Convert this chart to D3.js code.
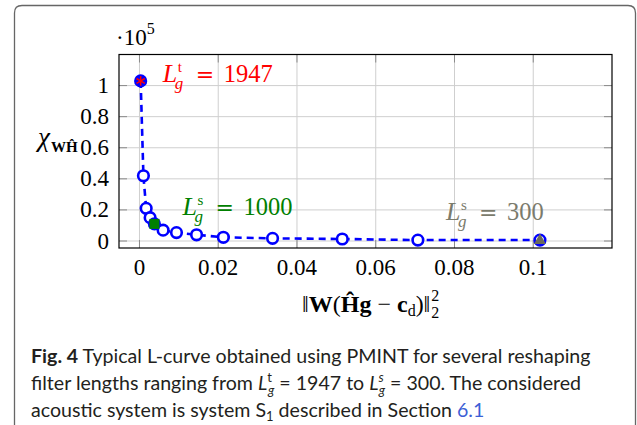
<!DOCTYPE html>
<html>
<head>
<meta charset="utf-8">
<script src="https://cdn.jsdelivr.net/npm/d3@7"></script>
<style>
  html, body { margin: 0; padding: 0; background: #fff; }
  svg { display: block; }
</style>
</head>
<body>
<svg id="chart" width="637" height="425"></svg>
<script>
// === L-curve data (y in units of 1e5) ===
const resid = [0.0003, 0.001, 0.0017, 0.0027, 0.0038, 0.006, 0.0094, 0.0145, 0.0213, 0.0338, 0.0515, 0.0707, 0.1017];
const chi   = [1.03, 0.42, 0.21, 0.15, 0.11, 0.07, 0.054, 0.04, 0.024, 0.017, 0.013, 0.006, 0.006];

const xTicks = [0, 0.02, 0.04, 0.06, 0.08, 0.1];
const xTickLabels = ["0", "0.02", "0.04", "0.06", "0.08", "0.1"];
const yTicks = [0, 0.2, 0.4, 0.6, 0.8, 1];
const yTickLabels = ["0", "0.2", "0.4", "0.6", "0.8", "1"];

// annotated points: index into data, superscript, filter length
const annIdx = [0, 4, 12];
const annSup = ["t", "s", "s"];
const annNum = ["1947", "1000", "300"];
const annColor = ["#ff0000", "#008000", "#7b7b6c"];

const SERIF = "'Liberation Serif', 'DejaVu Serif', serif";

const svg = d3.select("#chart");

// rounded frame of the figure box
svg.append("path")
  .attr("d", "M14.5,430 V13 Q14.5,5.5 22,5.5 H628 Q635.5,5.5 635.5,13 V430")
  .attr("fill", "none")
  .attr("stroke", "#666")
  .attr("stroke-width", 1.3);

const plot = { left: 119, right: 612, top: 54.5, bottom: 248 };

const x = d3.scaleLinear().domain([-0.0052, 0.12]).range([plot.left, plot.right]);
const y = d3.scaleLinear().domain([-0.045, 1.2]).range([plot.bottom, plot.top]);

// grid
const grid = svg.append("g");
grid.selectAll("line.gx").data(xTicks).enter().append("line")
  .attr("x1", d => x(d)).attr("x2", d => x(d))
  .attr("y1", plot.top).attr("y2", plot.bottom)
  .attr("stroke", "#cfcfcf").attr("stroke-width", 1);
grid.selectAll("line.gy").data(yTicks).enter().append("line")
  .attr("y1", d => y(d)).attr("y2", d => y(d))
  .attr("x1", plot.left).attr("x2", plot.right)
  .attr("stroke", "#cfcfcf").attr("stroke-width", 1);

// tick marks inside on all four sides
const tl = 8;
const ticks = svg.append("g").attr("stroke", "#8a8a8a").attr("stroke-width", 1);
xTicks.forEach(t => {
  ticks.append("line").attr("x1", x(t)).attr("x2", x(t)).attr("y1", plot.bottom).attr("y2", plot.bottom - tl);
  ticks.append("line").attr("x1", x(t)).attr("x2", x(t)).attr("y1", plot.top).attr("y2", plot.top + tl);
});
yTicks.forEach(t => {
  ticks.append("line").attr("y1", y(t)).attr("y2", y(t)).attr("x1", plot.left).attr("x2", plot.left + tl);
  ticks.append("line").attr("y1", y(t)).attr("y2", y(t)).attr("x1", plot.right).attr("x2", plot.right - tl);
});

// axis box
svg.append("rect")
  .attr("x", plot.left).attr("y", plot.top)
  .attr("width", plot.right - plot.left).attr("height", plot.bottom - plot.top)
  .attr("fill", "none").attr("stroke", "#000").attr("stroke-width", 1.2);

// tick labels
svg.selectAll("text.xt").data(xTicks).enter().append("text")
  .attr("x", d => x(d)).attr("y", 275)
  .attr("text-anchor", "middle")
  .attr("font-family", SERIF).attr("font-size", 23)
  .text((d, i) => xTickLabels[i]);
svg.selectAll("text.yt").data(yTicks).enter().append("text")
  .attr("x", 109).attr("y", d => y(d) + 7.5)
  .attr("text-anchor", "end")
  .attr("font-family", SERIF).attr("font-size", 23)
  .text((d, i) => yTickLabels[i]);

// multiplier ·10^5
const mult = svg.append("text").attr("x", 116).attr("y", 45)
  .attr("font-family", SERIF).attr("font-size", 23);
mult.append("tspan").text("·10");
mult.append("tspan").attr("font-size", 16).attr("dy", -11).text("5");

// y label chi_{WH^}
const yl = svg.append("text").attr("x", 38).attr("y", 146)
  .attr("font-family", SERIF).attr("font-size", 27);
yl.append("tspan").attr("font-style", "italic").text("χ");
yl.append("tspan").attr("font-size", 15).attr("font-weight", "bold").attr("dx", 1).attr("dy", 6).text("WĤ");

// x label ||W(Hg - c_d)||_2^2
const xl = svg.append("text").attr("x", 302).attr("y", 312)
  .attr("font-family", SERIF).attr("font-size", 24);
xl.append("tspan").text("‖");
xl.append("tspan").attr("font-weight", "bold").text("W");
xl.append("tspan").text("(");
xl.append("tspan").attr("font-weight", "bold").text("Ĥg");
xl.append("tspan").text(" − ");
xl.append("tspan").attr("font-weight", "bold").text("c");
xl.append("tspan").attr("font-size", 16).attr("dy", 4).text("d");
xl.append("tspan").attr("dy", -4).text(")‖");
const xlEnd = 302 + xl.node().getComputedTextLength();
const xl2 = svg.append("text").attr("font-family", SERIF).attr("font-size", 16);
xl2.append("tspan").attr("x", xlEnd + 1).attr("y", 301).text("2");
xl2.append("tspan").attr("x", xlEnd + 1).attr("y", 318).text("2");

// dashed curve
const line = d3.line().x((d, i) => x(resid[i])).y((d, i) => y(chi[i]));
svg.append("path")
  .datum(chi)
  .attr("d", line)
  .attr("fill", "none")
  .attr("stroke", "#0000ff")
  .attr("stroke-width", 2.6)
  .attr("stroke-dasharray", "7,5");

// circle markers
svg.selectAll("circle.pt").data(chi).enter().append("circle")
  .attr("cx", (d, i) => x(resid[i]))
  .attr("cy", d => y(d))
  .attr("r", 5.3)
  .attr("fill", (d, i) => i === 0 ? "#0000ff" : "#fff")
  .attr("stroke", "#0000ff")
  .attr("stroke-width", 2.6);

// red asterisk on the first point
const p0 = [x(resid[annIdx[0]]), y(chi[annIdx[0]])];
const star = svg.append("g").attr("stroke", "#ff0000").attr("stroke-width", 1.5);
[0, 60, 120].forEach(a => {
  const r = a * Math.PI / 180, s = 4.8;
  star.append("line")
    .attr("x1", p0[0] - s * Math.sin(r)).attr("y1", p0[1] - s * Math.cos(r))
    .attr("x2", p0[0] + s * Math.sin(r)).attr("y2", p0[1] + s * Math.cos(r));
});

// green square
const p1 = [x(resid[annIdx[1]]), y(chi[annIdx[1]])];
svg.append("rect")
  .attr("x", p1[0] - 5).attr("y", p1[1] - 5)
  .attr("width", 10).attr("height", 10)
  .attr("fill", "#008000");

// gray triangle
const p2 = [x(resid[annIdx[2]]), y(chi[annIdx[2]])];
svg.append("path")
  .attr("d", `M${p2[0]},${p2[1] - 6.5} L${p2[0] + 6},${p2[1] + 4} L${p2[0] - 6},${p2[1] + 4} Z`)
  .attr("fill", "#6b6b5e");

// annotations L_g^{t/s} = N, one text element each
const annOffset = [[22, 1.5], [28, -9], [-94, -20]];
function drawLabel(i) {
  const px = x(resid[annIdx[i]]) + annOffset[i][0];
  const py = y(chi[annIdx[i]]) + annOffset[i][1];
  const t = svg.append("text").attr("fill", annColor[i]).attr("font-family", SERIF);
  t.append("tspan").attr("x", px).attr("y", py).attr("font-size", 26).attr("font-style", "italic").text("L");
  t.append("tspan").attr("x", px + 15).attr("y", py - 10).attr("font-size", 15).text(annSup[i]);
  t.append("tspan").attr("x", px + 12).attr("y", py + 7).attr("font-size", 17).attr("font-style", "italic").text("g");
  t.append("tspan").attr("x", px + 33).attr("y", py).attr("font-size", 22)
    .attr("font-family", "'DejaVu Serif', serif").text("=");
  t.append("tspan").attr("x", px + 61).attr("y", py).attr("font-size", 24.5).text(annNum[i]);
}
annIdx.forEach((d, i) => drawLabel(i));

// caption
const CAP = "Lato, 'Open Sans', sans-serif";
const capSize = 19.6;
const c1 = svg.append("text").attr("x", 31).attr("y", 363)
  .attr("font-family", CAP).attr("font-size", capSize).attr("fill", "#231f20");
c1.append("tspan").attr("font-weight", "bold").text("Fig. 4");
c1.append("tspan").text(" Typical L-curve obtained using PMINT for several reshaping");

const c2 = svg.append("text").attr("x", 31).attr("y", 390)
  .attr("font-family", CAP).attr("font-size", capSize).attr("fill", "#231f20");
c2.append("tspan").text("filter lengths ranging from ");
c2.append("tspan").attr("font-style", "italic").text("L");
c2.append("tspan").attr("font-size", 13).attr("dy", -8).text("t");
c2.append("tspan").attr("font-size", 13).attr("font-style", "italic").attr("dx", -4).attr("dy", 13).text("g");
c2.append("tspan").attr("dy", -5).text(" = 1947 to ");
c2.append("tspan").attr("font-style", "italic").text("L");
c2.append("tspan").attr("font-size", 13).attr("font-style", "italic").attr("dy", -8).text("s");
c2.append("tspan").attr("font-size", 13).attr("font-style", "italic").attr("dx", -5).attr("dy", 13).text("g");
c2.append("tspan").attr("dy", -5).text(" = 300. The considered");

const c3 = svg.append("text").attr("x", 31).attr("y", 417)
  .attr("font-family", CAP).attr("font-size", capSize).attr("fill", "#231f20");
c3.append("tspan").text("acoustic system is system S");
c3.append("tspan").attr("font-size", 13).attr("dy", 4).text("1");
c3.append("tspan").attr("dy", -4).text(" described in Section ");
c3.append("tspan").attr("fill", "#3c5fd6").text("6.1");
</script>
</body>
</html>
